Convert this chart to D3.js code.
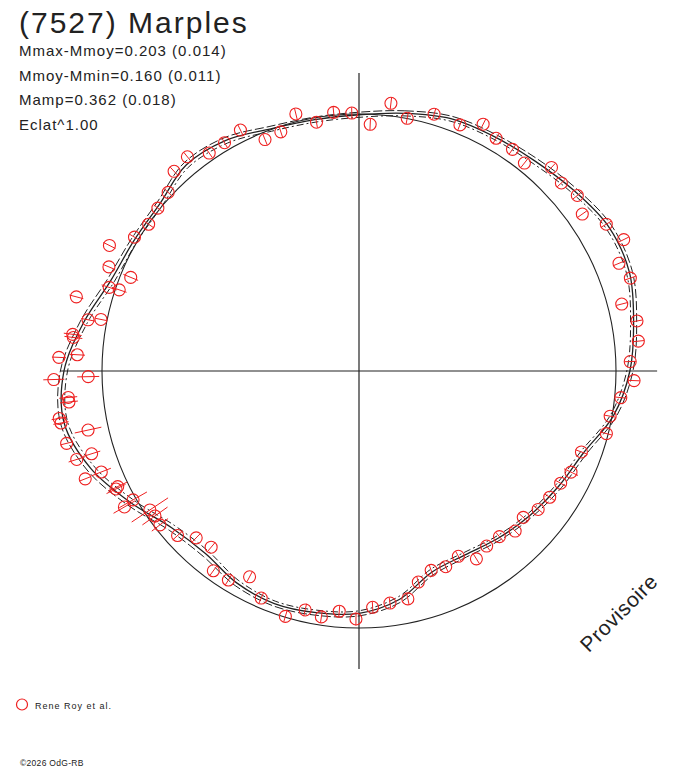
<!DOCTYPE html>
<html>
<head>
<meta charset="utf-8">
<script src="https://cdn.jsdelivr.net/npm/d3@7"></script>
<style>
body { margin: 0; background: #fff; }
svg text { font-family: "Liberation Sans", Arial, sans-serif; fill: #222; }
</style>
</head>
<body>
<svg id="chart" width="688" height="768"></svg>
<script>
//-----------------------------Data
// phase as angle (deg, clockwise from top), relative brightness, error half-length
var phaseDeg = [2.6, 6.8, 10.8, 16.3, 22.3, 26.7, 30.5, 34.7, 38.5, 43.4,
    47.1, 51.2, 54.9, 59.3, 63.6, 67.5, 71.1, 75.7, 79.8, 83.9,
    88.0, 92.0, 95.8, 100.2, 104.2, 110.0, 115.5, 119.1, 123.5, 127.7,
    131.7, 135.7, 139.7, 143.9, 148.0, 151.8, 156.1, 160.1, 164.3, 167.9,
    172.4, 176.7, 180.7, 184.7, 188.7, 192.7, 196.7, 203.3, 208.0, 212.0,
    216.1, 220.0, 224.3, 227.8, 232.3, 234.6, 236.4, 239.9, 240.3, 244.1,
    244.4, 248.5, 248.6, 252.6, 252.8, 256.1, 257.7, 260.1, 261.0, 263.9,
    264.8, 268.4, 268.8, 272.6, 273.3, 276.7, 277.3, 280.7, 281.3, 284.7,
    288.5, 288.7, 292.3, 292.6, 296.7, 300.8, 304.9, 309.0, 313.1, 317.2,
    321.3, 325.5, 329.5, 333.8, 337.9, 341.9, 346.2, 350.3, 354.4, 358.4];

var relFlux = [0.961, 1.049, 1.001, 1.041, 1.035, 1.075, 1.051, 1.049, 1.034, 1.090,
    1.075, 1.090, 1.062, 1.119, 1.150, 1.095, 1.116, 1.055, 1.099, 1.093,
    1.056, 1.071, 1.024, 0.993, 0.993, 0.921, 0.914, 0.898, 0.890, 0.881,
    0.856, 0.870, 0.845, 0.843, 0.862, 0.818, 0.833, 0.825, 0.853, 0.907,
    0.911, 0.921, 0.965, 0.938, 0.968, 0.953, 0.997, 0.962, 0.907, 0.959,
    0.962, 0.895, 0.907, 0.953, 0.979, 0.974, 0.977, 1.055, 1.012, 1.051,
    1.041, 1.145, 1.077, 1.151, 1.089, 1.172, 1.079, 1.177, 1.181, 1.135,
    1.136, 1.188, 1.054, 1.169, 1.098, 1.119, 1.123, 1.073, 1.024, 1.137,
    1.025, 0.985, 0.960, 1.054, 1.087, 1.017, 0.998, 1.007, 1.017, 1.059,
    1.068, 1.029, 1.031, 1.045, 0.972, 0.979, 1.030, 0.982, 1.011, 1.004];

var errBar = [0.022, 0.022, 0.022, 0.022, 0.022, 0.022, 0.022, 0.022, 0.022, 0.022,
    0.022, 0.022, 0.022, 0.022, 0.022, 0.022, 0.022, 0.022, 0.022, 0.022,
    0.022, 0.022, 0.022, 0.022, 0.022, 0.025, 0.030, 0.022, 0.022, 0.022,
    0.022, 0.022, 0.022, 0.022, 0.022, 0.022, 0.022, 0.022, 0.022, 0.022,
    0.022, 0.022, 0.025, 0.022, 0.022, 0.025, 0.022, 0.022, 0.022, 0.022,
    0.022, 0.022, 0.022, 0.025, 0.040, 0.060, 0.085, 0.049, 0.062, 0.041,
    0.041, 0.024, 0.040, 0.033, 0.035, 0.024, 0.053, 0.030, 0.030, 0.035,
    0.035, 0.041, 0.043, 0.027, 0.030, 0.035, 0.035, 0.027, 0.022, 0.028,
    0.031, 0.030, 0.031, 0.026, 0.026, 0.023, 0.022, 0.022, 0.022, 0.022,
    0.022, 0.022, 0.022, 0.022, 0.022, 0.022, 0.022, 0.022, 0.022, 0.022];

// fitted lightcurve, sampled every 10 deg, with its uncertainty band
var fitAngle = [0, 10, 20, 30, 40, 50, 60, 70, 80, 90, 100, 110,
    120, 130, 140, 150, 160, 170, 180, 190, 200, 210, 220, 230,
    240, 250, 260, 270, 280, 290, 300, 310, 320, 330, 340, 350];
var fitRadius = [0.997, 1.018, 1.045, 1.053, 1.066, 1.092, 1.122, 1.120, 1.085, 1.054, 1.005, 0.930,
    0.897, 0.871, 0.847, 0.826, 0.832, 0.903, 0.943, 0.955, 0.963, 0.952, 0.928, 0.950,
    1.025, 1.110, 1.165, 1.148, 1.088, 1.028, 1.012, 1.012, 1.046, 1.036, 1.003, 0.993];
var fitSpread = [0.010, 0.010, 0.010, 0.010, 0.012, 0.012, 0.012, 0.012, 0.012, 0.012, 0.012, 0.012,
    0.012, 0.010, 0.010, 0.010, 0.012, 0.012, 0.010, 0.010, 0.010, 0.012, 0.014, 0.014,
    0.016, 0.016, 0.014, 0.014, 0.014, 0.014, 0.012, 0.012, 0.012, 0.012, 0.010, 0.010];

var titleText = "(7527) Marples";
var infoLines = ["Mmax-Mmoy=0.203 (0.014)", "Mmoy-Mmin=0.160 (0.011)", "Mamp=0.362 (0.018)", "Eclat^1.00"];
var legendLabel = "Rene Roy et al.";

//-----------------------------Chart
var cx = 359, cy = 371, R = 257;
var rad = d3.scaleLinear().domain([0, 1]).range([0, R]);
var ang = d3.scaleLinear().domain([0, 360]).range([0, 2 * Math.PI]);
var red = "#ee2020";
var ink = "#222";

var svg = d3.select("#chart");
var g = svg.append("g")
    .attr("transform", "translate(" + cx + "," + cy + ")");

// axes
g.append("line")
    .attr("x1", -rad(1.16)).attr("x2", rad(1.16))
    .attr("y1", 0).attr("y2", 0)
    .attr("stroke", ink).attr("stroke-width", 1.2);
g.append("line")
    .attr("x1", 0).attr("x2", 0)
    .attr("y1", -rad(1.16)).attr("y2", rad(1.16))
    .attr("stroke", ink).attr("stroke-width", 1.2);

// mean circle
g.append("circle")
    .attr("r", rad(1))
    .attr("fill", "none")
    .attr("stroke", ink).attr("stroke-width", 1.1);

// fitted curve + band
var fit = fitAngle.map(function(d, i) {
    return { a: d, r: fitRadius[i], s: fitSpread[i] };
});

function fitLine(off) {
    return d3.lineRadial()
        .curve(d3.curveCatmullRomClosed)
        .angle(function(d) { return ang(d.a); })
        .radius(function(d) { return rad(d.r + off * d.s); });
}

g.append("path")
    .attr("d", fitLine(1)(fit))
    .attr("fill", "none").attr("stroke", ink).attr("stroke-width", 1)
    .attr("stroke-dasharray", "9,3");
g.append("path")
    .attr("d", fitLine(-1)(fit))
    .attr("fill", "none").attr("stroke", ink).attr("stroke-width", 1)
    .attr("stroke-dasharray", "7,3,2,3");
g.append("path")
    .attr("d", fitLine(0)(fit))
    .attr("fill", "none").attr("stroke", ink).attr("stroke-width", 1.3);

// observations
var pts = phaseDeg.map(function(d, i) {
    return { a: d, r: relFlux[i], e: errBar[i] };
});

g.selectAll("line.err")
    .data(pts)
    .enter()
    .append("line")
    .attr("class", "err")
    .attr("x1", function(d) { return d3.pointRadial(ang(d.a), rad(d.r - d.e))[0]; })
    .attr("y1", function(d) { return d3.pointRadial(ang(d.a), rad(d.r - d.e))[1]; })
    .attr("x2", function(d) { return d3.pointRadial(ang(d.a), rad(d.r + d.e))[0]; })
    .attr("y2", function(d) { return d3.pointRadial(ang(d.a), rad(d.r + d.e))[1]; })
    .attr("stroke", red).attr("stroke-width", 1);

g.selectAll("circle.obs")
    .data(pts)
    .enter()
    .append("circle")
    .attr("class", "obs")
    .attr("cx", function(d) { return d3.pointRadial(ang(d.a), rad(d.r))[0]; })
    .attr("cy", function(d) { return d3.pointRadial(ang(d.a), rad(d.r))[1]; })
    .attr("r", 6)
    .attr("fill", "none")
    .attr("stroke", red).attr("stroke-width", 1.1);

//-----------------------------Texts
svg.append("text")
    .attr("x", 19).attr("y", 33)
    .attr("font-size", "30px")
    .attr("letter-spacing", "2px")
    .text(titleText);

svg.selectAll("text.info")
    .data(infoLines)
    .enter()
    .append("text")
    .attr("class", "info")
    .attr("x", 19)
    .attr("y", function(d, i) { return 56 + i * 24.6; })
    .attr("font-size", "15px")
    .attr("letter-spacing", "1px")
    .text(function(d) { return d; });

svg.append("text")
    .attr("transform", "translate(624,618) rotate(-45)")
    .attr("text-anchor", "middle")
    .attr("font-size", "21px")
    .attr("letter-spacing", "0.6px")
    .text("Provisoire");

// legend
svg.append("circle")
    .attr("cx", 22).attr("cy", 704.5).attr("r", 5.5)
    .attr("fill", "none").attr("stroke", red).attr("stroke-width", 1.2);
svg.append("text")
    .attr("x", 35).attr("y", 709)
    .attr("font-size", "9px")
    .attr("letter-spacing", "1px")
    .text(legendLabel);

svg.append("text")
    .attr("x", 20).attr("y", 766)
    .attr("font-size", "8.5px")
    .attr("letter-spacing", "0.3px")
    .text("\u00a92026 OdG-RB");
</script>
</body>
</html>
